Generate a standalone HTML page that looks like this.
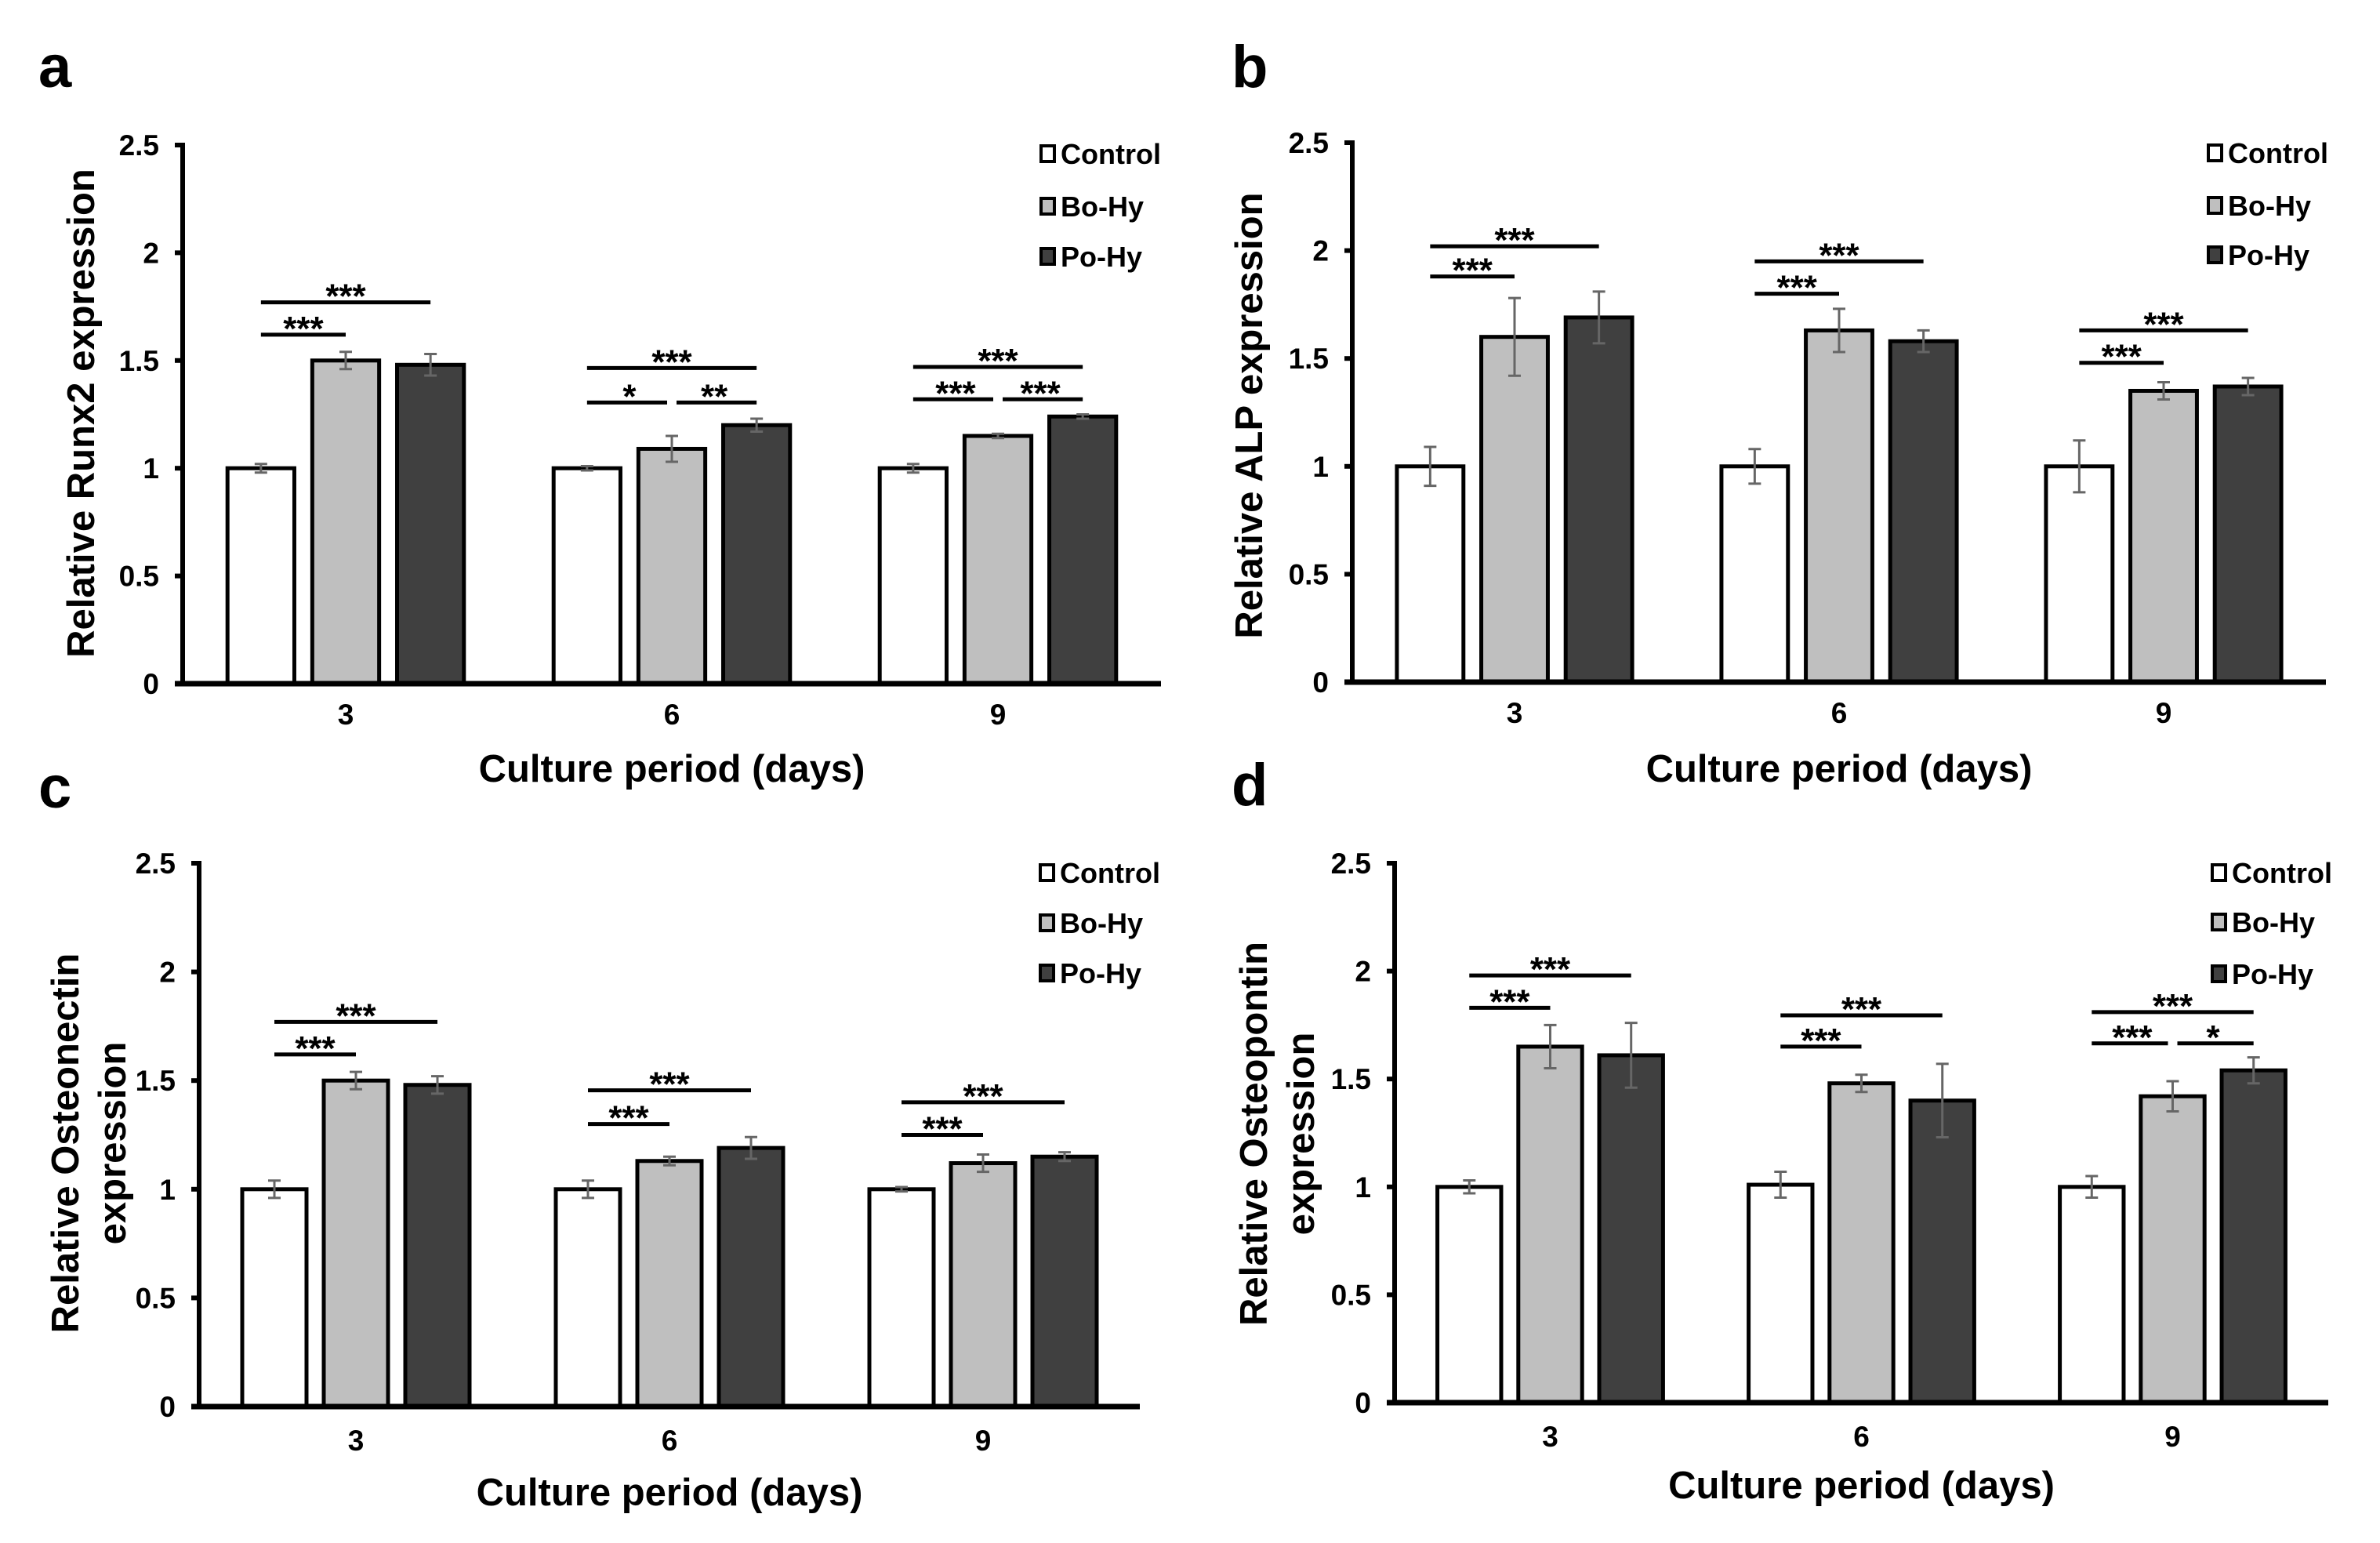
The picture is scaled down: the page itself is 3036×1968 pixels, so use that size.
<!DOCTYPE html>
<html><head><meta charset="utf-8"><style>
html,body{margin:0;padding:0;background:#fff;}
svg{display:block;font-family:"Liberation Sans",Arial,sans-serif;font-weight:bold;}
</style></head><body>
<svg id="fig" width="3036" height="1968" viewBox="0 0 3036 1968" xmlns="http://www.w3.org/2000/svg"></svg>
<script>
const categories = ["3", "6", "9"];
const seriesNames = ["Control", "Bo-Hy", "Po-Hy"];
const yTicks = [0, 0.5, 1, 1.5, 2, 2.5];
const yTickLabels = ["0", "0.5", "1", "1.5", "2", "2.5"];

const runx2Control = [1.0, 1.0, 1.0];
const runx2ControlErr = [0.02, 0.01, 0.02];
const runx2BoHy = [1.5, 1.09, 1.15];
const runx2BoHyErr = [0.04, 0.06, 0.01];
const runx2PoHy = [1.48, 1.2, 1.24];
const runx2PoHyErr = [0.05, 0.03, 0.01];

const alpControl = [1.0, 1.0, 1.0];
const alpControlErr = [0.09, 0.08, 0.12];
const alpBoHy = [1.6, 1.63, 1.35];
const alpBoHyErr = [0.18, 0.1, 0.04];
const alpPoHy = [1.69, 1.58, 1.37];
const alpPoHyErr = [0.12, 0.05, 0.04];

const osteonectinControl = [1.0, 1.0, 1.0];
const osteonectinControlErr = [0.04, 0.04, 0.01];
const osteonectinBoHy = [1.5, 1.13, 1.12];
const osteonectinBoHyErr = [0.04, 0.02, 0.04];
const osteonectinPoHy = [1.48, 1.19, 1.15];
const osteonectinPoHyErr = [0.04, 0.05, 0.02];

const osteopontinControl = [1.0, 1.01, 1.0];
const osteopontinControlErr = [0.03, 0.06, 0.05];
const osteopontinBoHy = [1.65, 1.48, 1.42];
const osteopontinBoHyErr = [0.1, 0.04, 0.07];
const osteopontinPoHy = [1.61, 1.4, 1.54];
const osteopontinPoHyErr = [0.15, 0.17, 0.06];

// significance: [group, fromSeries, toSeries, yValue, label]
const runx2Sig = [[0,0,1,1.62,"***"],[0,0,2,1.77,"***"],[1,0,2,1.465,"***"],[1,0,1,1.305,"*"],[1,1,2,1.305,"**"],[2,0,2,1.47,"***"],[2,0,1,1.32,"***"],[2,1,2,1.32,"***"]];
const alpSig = [[0,0,1,1.88,"***"],[0,0,2,2.02,"***"],[1,0,2,1.95,"***"],[1,0,1,1.80,"***"],[2,0,2,1.63,"***"],[2,0,1,1.48,"***"]];
const osteonectinSig = [[0,0,2,1.77,"***"],[0,0,1,1.62,"***"],[1,0,2,1.455,"***"],[1,0,1,1.30,"***"],[2,0,2,1.40,"***"],[2,0,1,1.25,"***"]];
const osteopontinSig = [[0,0,2,1.98,"***"],[0,0,1,1.83,"***"],[1,0,2,1.795,"***"],[1,0,1,1.65,"***"],[2,0,2,1.81,"***"],[2,0,1,1.665,"***"],[2,1,2,1.665,"*"]];

const NS = "http://www.w3.org/2000/svg";
const svg = document.getElementById("fig");
const fills = ["#ffffff", "#bfbfbf", "#404040"];
const seriesKeys = ["control", "bo-hy", "po-hy"];

function mk(tag, attrs, parent) {
  const e = document.createElementNS(NS, tag);
  for (const k in attrs) e.setAttribute(k, attrs[k]);
  (parent || svg).appendChild(e);
  return e;
}
function txt(s, attrs, parent) { const t = mk("text", attrs, parent); t.textContent = s; return t; }

const panels = [
  {id:"a", x0:233, x1:1481, y0:872, yTop:185, vals:[runx2Control,runx2BoHy,runx2PoHy], errs:[runx2ControlErr,runx2BoHyErr,runx2PoHyErr], sig:runx2Sig,
   title:["Relative Runx2 expression"], tx:[120], ty:527, letter:[49,111], legX:1328, legY:[196,263,327], tickY:924, xtY:997},
  {id:"b", x0:1725, x1:2967, y0:870, yTop:182, vals:[alpControl,alpBoHy,alpPoHy], errs:[alpControlErr,alpBoHyErr,alpPoHyErr], sig:alpSig,
   title:["Relative ALP expression"], tx:[1610], ty:530, letter:[1571,111], legX:2817, legY:[195,262,325], tickY:922, xtY:997},
  {id:"c", x0:254, x1:1454, y0:1794, yTop:1101, vals:[osteonectinControl,osteonectinBoHy,osteonectinPoHy], errs:[osteonectinControlErr,osteonectinBoHyErr,osteonectinPoHyErr], sig:osteonectinSig,
   title:["Relative Osteonectin","expression"], tx:[100,160], ty:1458, letter:[49,1030], legX:1327, legY:[1113,1177,1241], tickY:1850, xtY:1920},
  {id:"d", x0:1779, x1:2970, y0:1789, yTop:1101, vals:[osteopontinControl,osteopontinBoHy,osteopontinPoHy], errs:[osteopontinControlErr,osteopontinBoHyErr,osteopontinPoHyErr], sig:osteopontinSig,
   title:["Relative Osteopontin","expression"], tx:[1616,1676], ty:1446, letter:[1571,1027], legX:2822, legY:[1113,1176,1242], tickY:1845, xtY:1911}
];

panels.forEach(p => {
  const g = mk("g", {});
  
  
  const unit = (p.y0 - p.yTop) / 2.5;
  const yS = v => p.y0 - v * unit;
  const band = (p.x1 - p.x0) / categories.length;
  const bw = band * 0.205, pitch = band * 0.26;
  const xC = (gi, si) => p.x0 + band * (gi + 0.5) + (si - 1) * pitch;

  const L = txt(p.id, {x:p.letter[0], y:p.letter[1], "font-size":76}, g);
  
  

  yTicks.forEach((v, i) => {
    const tk = mk("line", {x1:p.x0-10, x2:p.x0, y1:yS(v), y2:yS(v), stroke:"#000", "stroke-width":6}, g);
    
    
    const tl = txt(yTickLabels[i], {x:p.x0-30, y:yS(v)+13, "font-size":37, "text-anchor":"end"}, g);
    
    
  });

  categories.forEach((c, gi) => {
    for (let si = 0; si < 3; si++) {
      const v = p.vals[si][gi], e = p.errs[si][gi], cx = xC(gi, si);
      const r = mk("rect", {x:cx-bw/2, y:yS(v), width:bw, height:p.y0-yS(v), fill:fills[si], stroke:"#000", "stroke-width":5}, g);
      
      
      const eb = mk("path", {d:`M${cx},${yS(v+e)}V${yS(v-e)}M${cx-8},${yS(v+e)}H${cx+8}M${cx-8},${yS(v-e)}H${cx+8}`, stroke:"#666", "stroke-width":3, fill:"none"}, g);
      
      
    }
    const xl = txt(c, {x:xC(gi,1), y:p.tickY, "font-size":37, "text-anchor":"middle"}, g);
    
    
  });

  const ya = mk("line", {x1:p.x0, x2:p.x0, y1:p.yTop-3, y2:p.y0, stroke:"#000", "stroke-width":6}, g);
  
  
  const xa = mk("line", {x1:p.x0-10, x2:p.x1, y1:p.y0, y2:p.y0, stroke:"#000", "stroke-width":7}, g);
  
  

  p.sig.forEach(s => {
    const xa1 = xC(s[0], s[1]), xb1 = xC(s[0], s[2]), y = yS(s[3]);
    const gap = (s[2] - s[1] === 1 && s[1] === 1) ? 6 : 0;
    const ln = mk("line", {x1:xa1+gap, x2:xb1-((s[2]-s[1]===1 && s[1]===0 && p.sig.some(t=>t[0]===s[0]&&t[1]===1))?6:0), y1:y, y2:y, stroke:"#000", "stroke-width":5}, g);
    
    
    const st = txt(s[4], {x:(xa1+xb1)/2, y:y+7, "font-size":44, "text-anchor":"middle"}, g);
    
    
  });

  seriesNames.forEach((n, si) => {
    const ly = p.legY[si];
    const sq = mk("rect", {x:p.legX, y:ly-10, width:17, height:20, fill:fills[si], stroke:"#000", "stroke-width":4}, g);
    
    
    const lt = txt(n, {x:p.legX+25, y:ly+13, "font-size":36}, g);
    
    
  });

  const xt = txt("Culture period (days)", {x:(p.x0+p.x1)/2, y:p.xtY, "font-size":49, "text-anchor":"middle"}, g);
  
  
  p.title.forEach((t, i) => {
    const yt = txt(t, {x:0, y:0, "font-size":49, "text-anchor":"middle", transform:`translate(${p.tx[i]},${p.ty}) rotate(-90)`}, g);
    
    
  });
});
</script>
</body></html>
